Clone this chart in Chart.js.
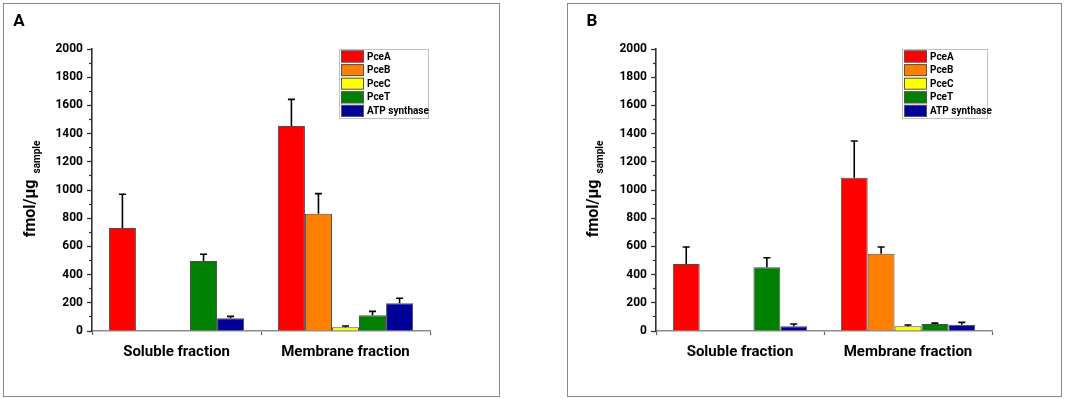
<!DOCTYPE html>
<html>
<head>
<meta charset="utf-8">
<script src="https://cdn.jsdelivr.net/npm/chart.js@4"></script>
<style>
  body { margin: 0; background: #fff; width: 1084px; height: 399px; position: relative; overflow: hidden; }
  .panel { position: absolute; top: 3px; height: 392px; border: 1px solid #8a8a8a; }
  canvas { display: block; }
</style>
</head>
<body>
<div class="panel" style="left:3px;width:495px"><canvas id="chartA" width="495" height="392"></canvas></div>
<div class="panel" style="left:567px;width:493px"><canvas id="chartB" width="493" height="392"></canvas></div>
<script>
const categories = ['Soluble fraction', 'Membrane fraction'];
const proteins = ['PceA', 'PceB', 'PceC', 'PceT', 'ATP synthase'];
const bar_colors = ['#ff0000', '#ff8000', '#ffff00', '#008000', '#000099'];

// panel A (fmol/ug sample), upper error = sd
const a_pcea = [730, 1454];  const a_pcea_sd = [240, 189];
const a_pceb = [0, 832];     const a_pceb_sd = [0, 142];
const a_pcec = [0, 26];      const a_pcec_sd = [0, 9];
const a_pcet = [496, 111];   const a_pcet_sd = [48, 28];
const a_atp = [90, 196];     const a_atp_sd = [14, 36];

// panel B
const b_pcea = [475, 1087];  const b_pcea_sd = [121, 261];
const b_pceb = [4, 548];     const b_pceb_sd = [0, 48];
const b_pcec = [4, 33];      const b_pcec_sd = [0, 10];
const b_pcet = [452, 50];    const b_pcet_sd = [68, 6];
const b_atp = [33, 45];      const b_atp_sd = [17, 16];

const FONT = 'Roboto, "DejaVu Sans", sans-serif';

const extras = {
    id: 'extras',
    afterDatasetsDraw(chart) {
        const ctx = chart.ctx;
        const y = chart.scales.y;
        ctx.save();
        ctx.strokeStyle = '#000';
        ctx.lineWidth = 1.6;
        chart.data.datasets.forEach((ds, i) => {
            const meta = chart.getDatasetMeta(i);
            meta.data.forEach((bar, j) => {
                const sd = ds.sd[j];
                if (!sd) return;
                const y0 = y.getPixelForValue(ds.data[j]);
                const y1 = y.getPixelForValue(ds.data[j] + sd);
                ctx.beginPath();
                ctx.moveTo(bar.x, y0);
                ctx.lineTo(bar.x, y1);
                ctx.moveTo(bar.x - 3.5, y1);
                ctx.lineTo(bar.x + 3.5, y1);
                ctx.stroke();
            });
        });
        ctx.restore();
    },
    afterDraw(chart, args, opts) {
        const ctx = chart.ctx;
        ctx.save();
        // panel letter
        ctx.fillStyle = '#000';
        ctx.font = 'bold 17px ' + FONT;
        ctx.textAlign = 'center';
        ctx.textBaseline = 'middle';
        ctx.fillText(opts.letter, opts.letterX, opts.letterY);

        // y axis title with subscript
        ctx.translate(opts.titleX, opts.titleY);
        ctx.rotate(-Math.PI / 2);
        ctx.font = 'bold 16px ' + FONT;
        const main = 'fmol/\u00b5g';
        const w1 = ctx.measureText(main).width;
        ctx.font = 'bold 10px ' + FONT;
        const sub = 'sample';
        const w2 = ctx.measureText(sub).width;
        const total = w1 + 6 + w2;
        ctx.textAlign = 'left';
        ctx.font = 'bold 16px ' + FONT;
        ctx.fillText(main, -total / 2, 0);
        ctx.font = 'bold 10px ' + FONT;
        ctx.fillText(sub, -total / 2 + w1 + 6, 6);
        ctx.restore();

        // legend box
        ctx.save();
        const lx = opts.legendX, ly = opts.legendY;
        ctx.strokeStyle = '#c0c0c0';
        ctx.lineWidth = 1;
        ctx.fillStyle = '#fff';
        ctx.fillRect(lx, ly, opts.legendW, 69);
        ctx.strokeRect(lx + 0.5, ly + 0.5, opts.legendW, 69);
        ctx.font = 'bold 10px ' + FONT;
        ctx.textBaseline = 'middle';
        ctx.textAlign = 'left';
        chart.data.datasets.forEach((ds, i) => {
            const ry = ly + 1.5 + i * 13.6;
            ctx.fillStyle = ds.backgroundColor;
            ctx.fillRect(lx + 2, ry, 23, 12);
            ctx.strokeStyle = '#555';
            ctx.strokeRect(lx + 2.5, ry + 0.5, 22, 11);
            ctx.fillStyle = '#000';
            ctx.fillText(ds.label, lx + 28, ry + 6.5);
        });
        ctx.restore();
    }
};

function build(id, values, sds, panel) {
    return new Chart(document.getElementById(id), {
        type: 'bar',
        data: {
            labels: categories,
            datasets: proteins.map((name, i) => ({
                label: name,
                data: values[i],
                sd: sds[i],
                backgroundColor: bar_colors[i],
                borderColor: '#4d4d4d',
                borderWidth: 1,
                categoryPercentage: 0.8,
                barPercentage: 1
            }))
        },
        options: {
            responsive: false,
            animation: false,
            devicePixelRatio: 1,
            layout: {
                padding: { left: 0, top: 45, right: 69, bottom: 0 }
            },
            plugins: {
                legend: { display: false },
                tooltip: { enabled: false },
                extras: panel
            },
            scales: {
                x: {
                    grid: {
                        drawOnChartArea: false,
                        tickLength: 4,
                        tickColor: '#666',
                        tickWidth: 1.2
                    },
                    border: { color: '#8c8c8c', width: 1.6 },
                    ticks: {
                        color: '#000',
                        padding: 8,
                        font: { family: FONT, size: 15, weight: 'bold' }
                    },
                    afterFit: function(scale) { scale.height = 65; }
                },
                y: {
                    weight: 1,
                    min: 0,
                    max: 2000,
                    ticks: {
                        stepSize: 200,
                        color: '#000',
                        padding: 4,
                        font: { family: FONT, size: 12, weight: 'bold' },
                        callback: function(value) { return String(value); }
                    },
                    grid: {
                        drawOnChartArea: false,
                        tickLength: 5,
                        tickColor: '#333',
                        tickWidth: 1.2
                    },
                    border: { color: '#333', width: 1.6 },
                    afterFit: function(scale) { scale.width = 88; }
                },
                yMinor: {
                    axis: 'y',
                    type: 'linear',
                    position: 'left',
                    weight: 0,
                    min: 0,
                    max: 2000,
                    ticks: { stepSize: 100, display: false },
                    grid: {
                        drawOnChartArea: false,
                        tickLength: 3,
                        tickColor: '#333',
                        tickWidth: 1.2
                    },
                    border: { display: false },
                    afterFit: function(scale) { scale.width = 0; }
                }
            }
        },
        plugins: [extras]
    });
}

build('chartA',
    [a_pcea, a_pceb, a_pcec, a_pcet, a_atp],
    [a_pcea_sd, a_pceb_sd, a_pcec_sd, a_pcet_sd, a_atp_sd],
    { letter: 'A', letterX: 15, letterY: 18, titleX: 27, titleY: 185, legendX: 335, legendY: 45, legendW: 89 });

build('chartB',
    [b_pcea, b_pceb, b_pcec, b_pcet, b_atp],
    [b_pcea_sd, b_pceb_sd, b_pcec_sd, b_pcet_sd, b_atp_sd],
    { letter: 'B', letterX: 24, letterY: 18, titleX: 26, titleY: 185, legendX: 334, legendY: 45, legendW: 85 });
</script>
</body>
</html>
